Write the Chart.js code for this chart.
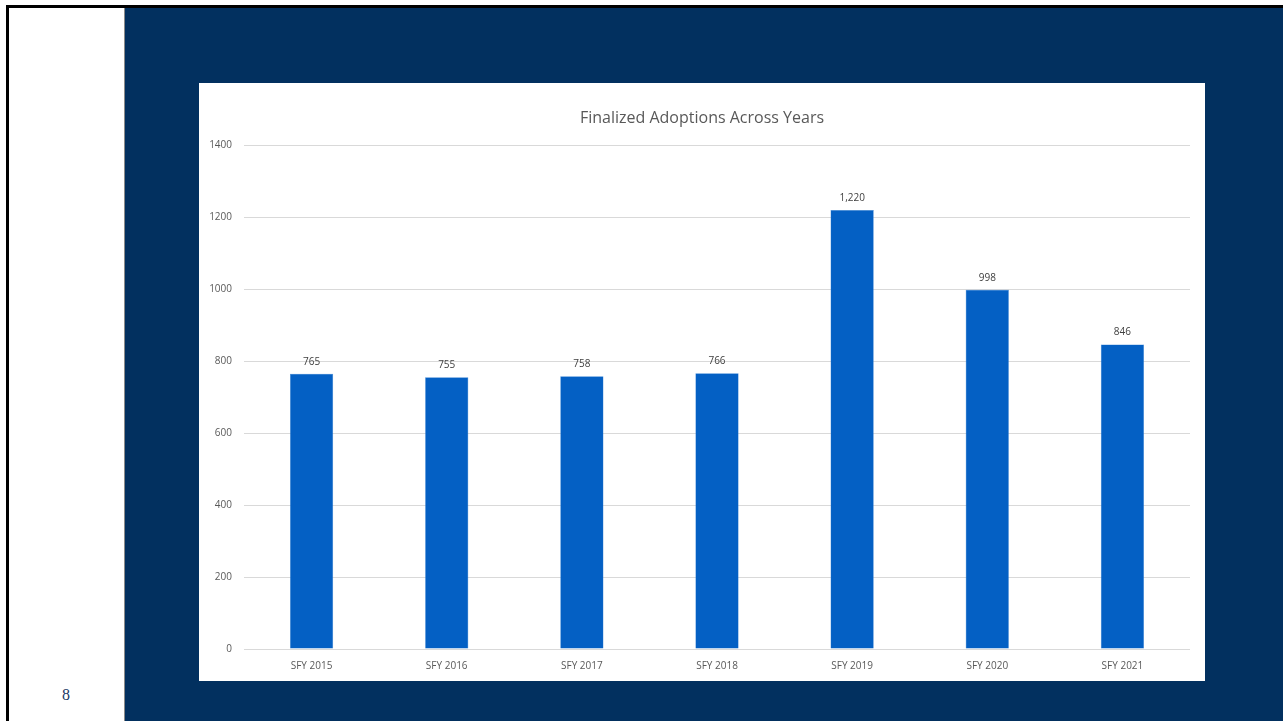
<!DOCTYPE html>
<html lang="en">
<head>
    <meta charset="UTF-8">
    <title>Finalized Adoptions Across Years</title>
    <script src="https://cdn.jsdelivr.net/npm/chart.js@4/dist/chart.umd.min.js"></script>
    <style>
        body { margin: 0; background: #ffffff; overflow: hidden; }
        .frame {
            position: absolute; left: 6px; top: 5px; width: 1400px; height: 800px;
            border-top: 3px solid #000; border-left: 3px solid #000;
        }
        .navy {
            position: absolute; left: 124px; top: 8px; width: 1200px; height: 800px;
            background: #02305f; border-left: 1px solid #8a8a8a;
        }
        .page-num {
            position: absolute; left: 56px; top: 686px; width: 20px; text-align: center;
            font-family: "Liberation Serif", serif; font-size: 16px; color: #203864;
        }
        .chartBox {
            position: absolute; left: 199px; top: 83px; width: 1006px; height: 598px;
            background: #ffffff;
        }
    </style>
</head>
<body>
    <div class="frame"></div>
    <div class="navy"></div>
    <div class="page-num">8</div>
    <div class="chartBox">
        <canvas id="myChart"></canvas>
    </div>
    <script>
        // chart data
        const years = ['SFY 2015', 'SFY 2016', 'SFY 2017', 'SFY 2018', 'SFY 2019', 'SFY 2020', 'SFY 2021'];
        const adoptions = [765, 755, 758, 766, 1220, 998, 846];
        const yTicks = [0, 200, 400, 600, 800, 1000, 1200, 1400];

        const fontFamily = "'Open Sans', 'Liberation Sans', sans-serif";
        const textColor = '#595959';

        // draws the number above each bar
        const barLabels = {
            id: 'barLabels',
            afterDatasetsDraw(chart) {
                const ctx = chart.ctx;
                const meta = chart.getDatasetMeta(0);
                ctx.save();
                ctx.font = '10px ' + fontFamily;
                ctx.fillStyle = '#404040';
                ctx.textAlign = 'center';
                ctx.textBaseline = 'middle';
                meta.data.forEach((bar, i) => {
                    ctx.fillText(adoptions[i].toLocaleString('en-US'), bar.x, bar.y - 12);
                });
                ctx.restore();
            }
        };

        // centre the title on the whole white panel, not on the padded box
        const centreTitle = {
            id: 'centreTitle',
            afterLayout(chart) {
                const t = chart.titleBlock;
                if (!t) return;
                t.left = 0;
                t.right = chart.width;
                t.width = chart.width;
            }
        };

        const data = {
            labels: years,
            datasets: [{
                label: 'Finalized Adoptions',
                data: adoptions,
                backgroundColor: '#0460c4',
                borderColor: '#3a84d6',
                borderWidth: 0.5,
                categoryPercentage: 1,
                barPercentage: 0.32
            }]
        };

        const config = {
            type: 'bar',
            data,
            options: {
                responsive: false,
                animation: false,
                layout: { padding: { top: 0, right: 15, bottom: 0, left: 0 } },
                plugins: {
                    legend: { display: false },
                    tooltip: { enabled: false },
                    title: {
                        display: true,
                        text: 'Finalized Adoptions Across Years',
                        color: textColor,
                        font: { family: fontFamily, size: 16, weight: 'normal' },
                        padding: { top: 26, bottom: 17 }
                    }
                },
                scales: {
                    x: {
                        grid: { display: false },
                        border: { display: false },
                        ticks: { color: textColor, font: { family: fontFamily, size: 10 }, padding: 3 },
                        afterFit(scale) { scale.height = 32; }
                    },
                    y: {
                        min: 0,
                        max: 1400,
                        afterBuildTicks(scale) { scale.ticks = yTicks.map(v => ({ value: v })); },
                        grid: { color: '#d9d9d9', drawTicks: false },
                        border: { display: false },
                        ticks: {
                            color: textColor,
                            font: { family: fontFamily, size: 10 },
                            padding: 12,
                            callback: (value) => String(value)
                        },
                        afterFit(scale) { scale.width = 45; }
                    }
                }
            },
            plugins: [barLabels, centreTitle]
        };

        const canvas = document.getElementById('myChart');
        canvas.width = 1006;
        canvas.height = 598;
        const myChart = new Chart(canvas, config);
    </script>
</body>
</html>
